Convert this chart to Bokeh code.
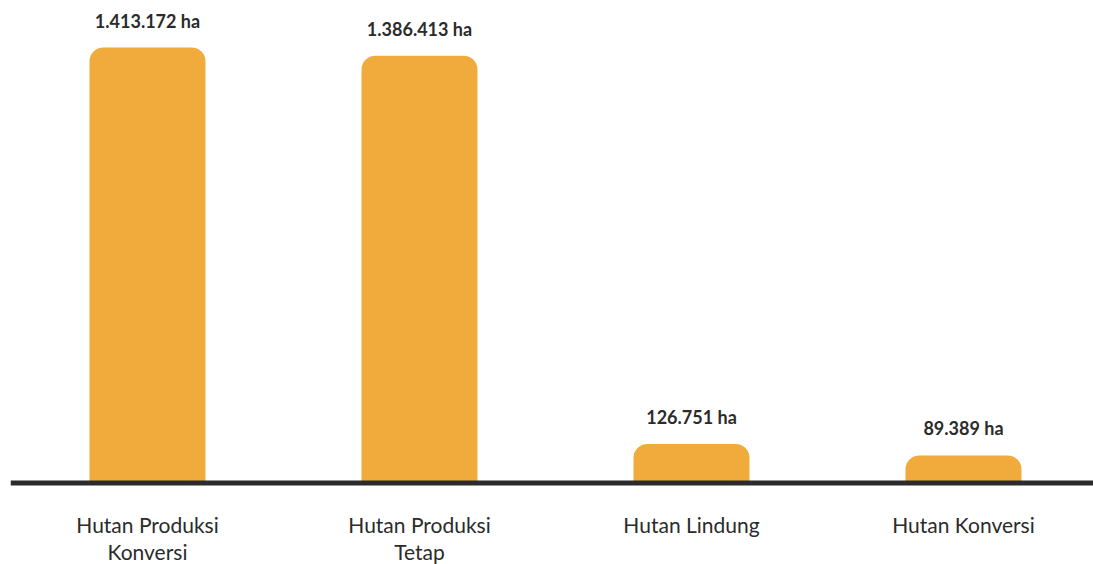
from bokeh.plotting import figure
from bokeh.models import ColumnDataSource, Range1d, Span, LabelSet
from bokeh.core.properties import value
from bokeh.embed import file_html
from bokeh.resources import INLINE

categories = ["Hutan Produksi Konversi", "Hutan Produksi Tetap", "Hutan Lindung", "Hutan Konversi"]
label_line1 = ["Hutan Produksi", "Hutan Produksi", "Hutan Lindung", "Hutan Konversi"]
label_line2 = ["Konversi", "Tetap", "", ""]
values = [1413172, 1386413, 126751, 89389]
value_labels = ["1.413.172 ha", "1.386.413 ha", "126.751 ha", "89.389 ha"]

BAR = "#F1AA3C"
TXT = "#2b2b2b"
FONT = value("Lato")

W, H = 1093, 564
left = 10
step = 272.0
first = 147.0 - left
scale = 1413172 / 435.5
zero_px = 482.5

p = figure(width=W, height=H, output_backend="svg", toolbar_location=None,
           x_range=Range1d(-first / step, (W - left - first) / step),
           y_range=Range1d(-(H - zero_px) * scale, zero_px * scale),
           min_border=0, min_border_left=left, min_border_right=0,
           min_border_top=0, min_border_bottom=0)
p.axis.visible = False
p.grid.visible = False
p.outline_line_color = None
p.background_fill_color = "white"
p.border_fill_color = "white"

xs = list(range(len(categories)))
src = ColumnDataSource(dict(x=xs, top=values, lab=value_labels,
                            l1=label_line1, l2=label_line2))

p.vbar(x="x", top="top", bottom=0, width=116 / step, source=src,
       fill_color=BAR, line_color=None, border_radius=(14, 14, 0, 0))

p.add_layout(Span(location=0, dimension="width", line_color=TXT, line_width=5))

p.add_layout(LabelSet(x="x", y="top", text="lab", source=src, text_align="center",
                      text_baseline="alphabetic", y_offset=20,
                      text_font=FONT, text_font_size="18px", text_font_style="bold",
                      text_color=TXT))

for txt, off in (("l1", -50), ("l2", -76.5)):
    p.add_layout(LabelSet(x="x", y=0, text=txt, source=src, text_align="center",
                          text_baseline="alphabetic", y_offset=off,
                          text_font=FONT, text_font_size="21px", text_font_style="normal",
                          text_color=TXT))

open("out.html", "w").write(file_html(p, INLINE))
